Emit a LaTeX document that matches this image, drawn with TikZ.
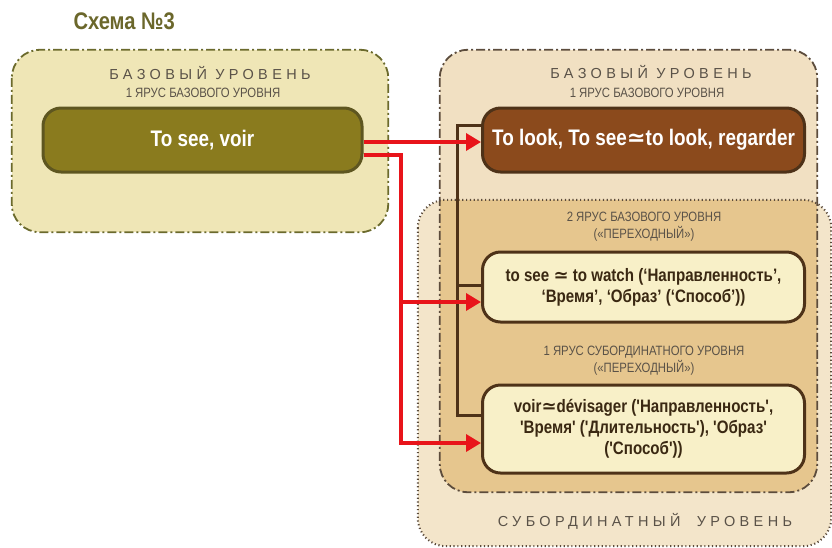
\documentclass[tikz,border=0pt]{standalone}
\usepackage{fontspec}
\setmainfont{Liberation Sans}[FakeStretch=0.84, Ligatures=TeXOff]
\newfontfamily\spacedfont{Liberation Sans}[LetterSpace=30]
\newfontfamily\symfont{DejaVu Sans}
\usetikzlibrary{arrows.meta}

\definecolor{titleolive}{HTML}{6B672B}
\definecolor{leftfill}{HTML}{EFE6B6}
\definecolor{leftborder}{HTML}{6B6A2C}
\definecolor{olivenode}{HTML}{8A7B1E}
\definecolor{olivedark}{HTML}{5E5620}
\definecolor{basefill}{HTML}{F1E0C2}
\definecolor{subfill}{HTML}{F3E5CA}
\definecolor{overlapfill}{HTML}{E6C68E}
\definecolor{brownnode}{HTML}{8B4A1C}
\definecolor{browndark}{HTML}{4E3218}
\definecolor{paleyellow}{HTML}{F8F0C8}
\definecolor{levelgray}{HTML}{5A5248}
\definecolor{framegray}{HTML}{5C4C3C}
\definecolor{arrowred}{HTML}{E8141A}
\definecolor{wordtext}{HTML}{3A2812}

\newcommand{\apx}{{\symfont\char"2243}}
\newcommand{\sq}{\symbol{"27}}

\tikzset{
  levelbox/.style={rectangle, rounded corners=28pt, inner sep=0pt},
  dashdotline/.style={line width=1.8pt, dash pattern=on 9pt off 3pt on 2pt off 3pt},
  dotline/.style={line width=2pt, dash pattern=on 1.2pt off 2.6pt},
  wordbox/.style={rectangle, rounded corners=18pt, line width=3pt, inner sep=0pt, align=center},
  leveltext/.style={font=\spacedfont\fontsize{14.5}{17}\selectfont, text=levelgray},
  tiertext/.style={font=\fontsize{13.5}{17}\selectfont, text=levelgray, align=center},
  redline/.style={draw=arrowred, line width=3.5pt},
  redarrow/.style={redline, -{Triangle[length=15pt,width=17pt]}},
  brownline/.style={draw=browndark, line width=3pt},
}

\begin{document}
\begin{tikzpicture}[x=1pt, y=-1pt]
\useasboundingbox (0,0) rectangle (832,547);

% title
\node[anchor=west, font=\bfseries\fontsize{24}{28}\selectfont, text=titleolive] (title) at (70,21) {Схема №3};

% left "basic level" frame
\node[levelbox, fill=leftfill, minimum width=376pt, minimum height=182pt] (leftlevel) at (200,141) {};
\draw[dashdotline, draw=leftborder, rounded corners=28pt] (leftlevel.north west) rectangle (leftlevel.south east);

% right frames: basic level and subordinate level
\node[levelbox, fill=basefill, minimum width=377pt, minimum height=442pt] (baselevel) at (628.5,271) {};
\node[levelbox, fill=subfill, minimum width=413pt, minimum height=346pt] (sublevel) at (624.5,373) {};
\begin{scope}
  \clip[rounded corners=28pt] (baselevel.north west) rectangle (baselevel.south east);
  \fill[overlapfill, rounded corners=28pt] (sublevel.north west) rectangle (sublevel.south east);
\end{scope}
\draw[dotline, draw=framegray, rounded corners=28pt] (sublevel.north west) rectangle (sublevel.south east);
\draw[dashdotline, draw=framegray, rounded corners=28pt] (baselevel.north west) rectangle (baselevel.south east);

% level and tier captions
\node[leveltext] (leftcap) at (210,73) {БАЗОВЫЙ УРОВЕНЬ};
\node[tiertext] (lefttier) at (203,93) {1 ЯРУС БАЗОВОГО УРОВНЯ};
\node[leveltext] (rightcap) at (651,72) {БАЗОВЫЙ УРОВЕНЬ};
\node[tiertext] (righttier) at (647,93) {1 ЯРУС БАЗОВОГО УРОВНЯ};
\node[tiertext] (tier2) at (644,227) {2 ЯРУС БАЗОВОГО УРОВНЯ\\(«ПЕРЕХОДНЫЙ»)};
\node[tiertext] (subtier) at (644,361) {1 ЯРУС СУБОРДИНАТНОГО УРОВНЯ\\(«ПЕРЕХОДНЫЙ»)};
\node[leveltext] (subcap) at (645,521) {СУБОРДИНАТНЫЙ\hspace{8pt} УРОВЕНЬ};

% word nodes
\node[wordbox, fill=olivenode, draw=olivedark, minimum width=319pt, minimum height=64pt,
      text=white, font=\bfseries\fontsize{22.5}{26}\selectfont] (seevoir) at (202.5,140) {To see, voir};
\node[wordbox, fill=brownnode, draw=browndark, minimum width=322pt, minimum height=64pt,
      text=white, font=\bfseries\fontsize{22.5}{26}\selectfont] (look) at (643.5,140)
      {To look, To see\apx to look, regarder};
\node[wordbox, fill=paleyellow, draw=browndark, minimum width=322pt, minimum height=70pt,
      text=wordtext, font=\bfseries\fontsize{18}{21}\selectfont] (watch) at (643.5,287)
      {to see \apx{} to watch (‘Направленность’,\\‘Время’, ‘Образ’ (‘Способ’))};
\node[wordbox, fill=paleyellow, draw=browndark, minimum width=322pt, minimum height=88pt,
      text=wordtext, font=\bfseries\fontsize{18}{21}\selectfont] (voir) at (643.5,429)
      {voir\apx dévisager (\sq Направленность\sq,\\\sq Время\sq{} (\sq Длительность\sq), \sq Образ\sq\\(\sq Способ\sq))};

% brown bracket joining the right-hand nodes
\coordinate (btop) at (457,125);
\coordinate (bbot) at (457,415);
\draw[brownline] ([yshift=15pt]look.west) -- (btop) -- (bbot) -- ([yshift=14pt]voir.west);
\draw[brownline] (457,285) -- (watch.west |- 457,285);

% red arrows
\coordinate (rmid) at (401,302);
\coordinate (rlow) at (401,443);
\draw[redarrow] ([yshift=-2pt]seevoir.east) -- ([yshift=-2pt]look.west);
\draw[redarrow] ([yshift=-15pt]seevoir.east) -| (rlow) -- ([yshift=-14pt]voir.west);
\draw[redarrow] (rmid) -- ([yshift=-15pt]watch.west);
\end{tikzpicture}
\end{document}
